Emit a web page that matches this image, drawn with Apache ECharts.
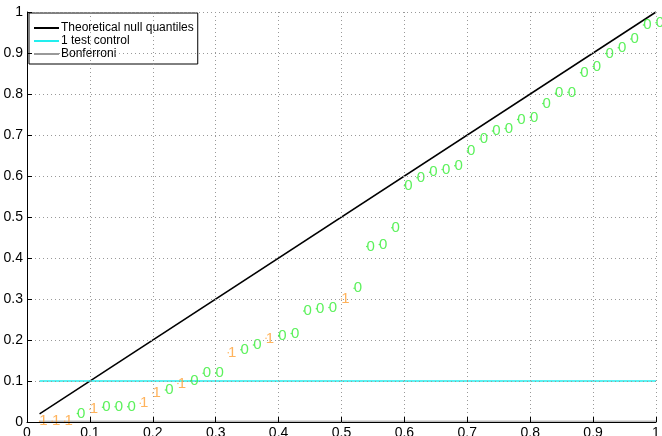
<!DOCTYPE html>
<html>
<head>
<meta charset="utf-8">
<script src="https://cdn.jsdelivr.net/npm/echarts@6/dist/echarts.min.js"></script>
<style>
  html, body { margin: 0; padding: 0; background: #fff; }
  #chart { width: 662px; height: 436px; }
</style>
</head>
<body>
<div id="chart"></div>
<script>
// x positions of the p-values (i/50)
const pX = [0.02, 0.04, 0.06, 0.08, 0.10, 0.12, 0.14, 0.16, 0.18, 0.20,
  0.22, 0.24, 0.26, 0.28, 0.30, 0.32, 0.34, 0.36, 0.38, 0.40,
  0.42, 0.44, 0.46, 0.48, 0.50, 0.52, 0.54, 0.56, 0.58, 0.60,
  0.62, 0.64, 0.66, 0.68, 0.70, 0.72, 0.74, 0.76, 0.78, 0.80,
  0.82, 0.84, 0.86, 0.88, 0.90, 0.92, 0.94, 0.96, 0.98, 1.00]
// sorted p-values
const pY = [0.002, 0.002, 0.002, 0.021, 0.031, 0.036, 0.037, 0.037, 0.046, 0.071,
  0.078, 0.094, 0.100, 0.119, 0.119, 0.169, 0.176, 0.188, 0.204, 0.211,
  0.216, 0.271, 0.276, 0.279, 0.300, 0.326, 0.428, 0.433, 0.474, 0.576,
  0.596, 0.609, 0.616, 0.625, 0.661, 0.690, 0.710, 0.716, 0.738, 0.743,
  0.777, 0.802, 0.804, 0.852, 0.867, 0.899, 0.913, 0.934, 0.968, 0.974]
// true label of each test (1 = real effect, 0 = null)
const truth = ['1', '1', '1', '0', '1', '0', '0', '0', '1', '1',
  '0', '1', '0', '0', '0', '1', '0', '0', '1', '0',
  '0', '0', '0', '0', '1', '0', '0', '0', '0', '0',
  '0', '0', '0', '0', '0', '0', '0', '0', '0', '0',
  '0', '0', '0', '0', '0', '0', '0', '0', '0', '0']
const alpha = 0.1
const bonferroni = alpha / 50
const ticks = ['0', '0.1', '0.2', '0.3', '0.4', '0.5', '0.6', '0.7', '0.8', '0.9', '1']

const colors = { '0': '#33ee33', '1': '#ffa033' }

const chart = echarts.init(document.getElementById('chart'))

function pts(flag) {
  const out = []
  pX.forEach((x, i) => {
    if (truth[i] === flag) out.push([x, pY[i]])
  })
  return out
}

function textSeries(flag) {
  return {
    type: 'scatter',
    data: pts(flag),
    symbol: 'circle',
    symbolSize: 1.5,
    itemStyle: { color: colors[flag] },
    label: {
      show: true,
      position: 'right',
      distance: 0,
      offset: [-1, 0],
      formatter: flag,
      color: colors[flag],
      fontSize: 15,
      fontFamily: 'Liberation Sans Narrow, Liberation Sans'
    },
    silent: true,
    z: 4
  }
}

const axisCommon = {
  type: 'value',
  min: 0,
  max: 1,
  interval: 0.1,
  axisLine: { show: true, lineStyle: { color: '#000', width: 1 } },
  axisTick: { show: true, inside: true, length: 5, lineStyle: { color: '#000' } },
  axisLabel: {
    color: '#000',
    fontSize: 14,
    fontFamily: 'Liberation Sans',
    margin: 4,
    formatter: (v) => ticks[Math.round(v * 10)]
  },
  splitLine: { show: true, lineStyle: { color: '#999', type: [1, 3], width: 1 } },
  z: 5
}

chart.setOption({
  animation: false,
  backgroundColor: '#fff',
  grid: { left: 27, right: 6, top: 12, bottom: 14, outerBoundsMode: 'none' },
  xAxis: axisCommon,
  yAxis: axisCommon,
  legend: {
    left: 29,
    top: 13,
    orient: 'vertical',
    backgroundColor: '#fff',
    borderColor: '#000',
    borderWidth: 1,
    borderRadius: 0,
    padding: [9, 4, 4, 5],
    itemGap: 1,
    itemWidth: 25,
    itemHeight: 2,
    icon: 'rect',
    textStyle: { color: '#000', fontSize: 12, fontFamily: 'Liberation Sans', padding: [0, 0, 0, -3] },
    data: ['Theoretical null quantiles', '1 test control', 'Bonferroni']
  },
  series: [
    {
      name: 'Theoretical null quantiles',
      type: 'line',
      data: [[pX[0], pX[0]], [1, 1]],
      showSymbol: false,
      lineStyle: { color: '#000', width: 1.5 },
      itemStyle: { color: '#000' },
      z: 3
    },
    {
      name: '1 test control',
      type: 'line',
      data: [[pX[0], alpha], [1, alpha]],
      showSymbol: false,
      lineStyle: { color: '#22eeee', width: 1.5 },
      itemStyle: { color: '#22eeee' },
      z: 3
    },
    {
      name: 'Bonferroni',
      type: 'line',
      data: [[pX[0], bonferroni], [1, bonferroni]],
      showSymbol: false,
      lineStyle: { color: '#999', width: 1 },
      itemStyle: { color: '#999' },
      z: 1
    },
    textSeries('0'),
    textSeries('1')
  ]
})
</script>
</body>
</html>
